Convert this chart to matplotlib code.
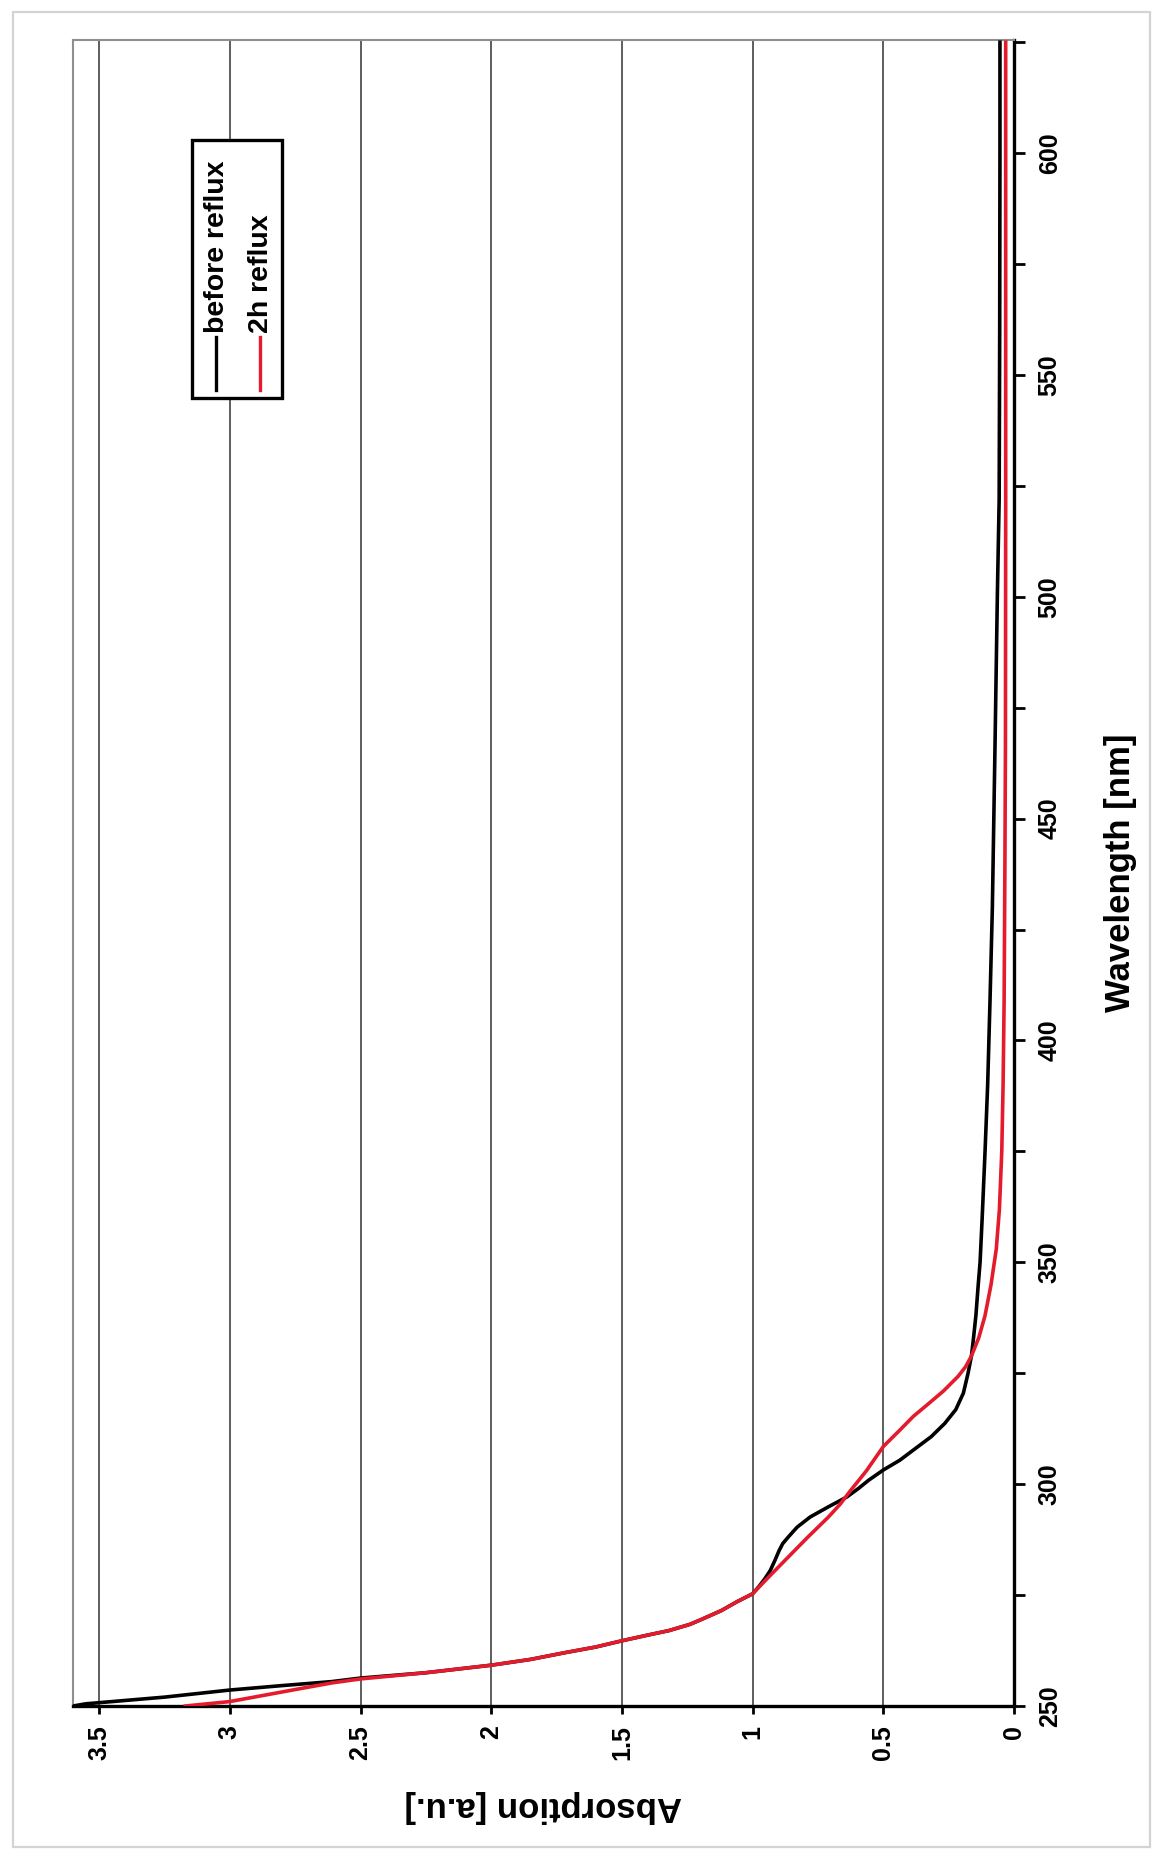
import matplotlib
matplotlib.use("Agg")
import matplotlib.pyplot as plt
from matplotlib.patches import Rectangle
from matplotlib.lines import Line2D

# UV-vis absorption spectra, drawn turned on its side:
# absorption runs along the bottom (high on the left), wavelength up the right side.

wl_before = [250, 250.5, 252, 253.6, 254.6, 255.5, 256.3, 257.5, 259.2, 260.5,
             262, 263.3, 264.7, 266, 267, 268.4, 269.4, 271.5, 273.5, 275.3,
             277, 278.8, 280.5, 282.8, 285, 286.6, 288, 290.3, 292.6, 294.9,
             297.1, 299, 300.9, 303.2, 305.4, 307.7, 310.7, 313.7, 316.8, 320.5,
             325, 328.9, 333, 338, 345, 350, 360, 375, 390, 409, 430, 466, 500,
             522, 560, 600, 625]
abs_before = [3.60, 3.55, 3.25, 3.00, 2.80, 2.61, 2.50, 2.25, 2.00, 1.85,
              1.72, 1.60, 1.50, 1.40, 1.32, 1.24, 1.20, 1.12, 1.06, 1.00,
              0.975, 0.952, 0.933, 0.915, 0.899, 0.885, 0.865, 0.83, 0.78, 0.71,
              0.64, 0.596, 0.556, 0.50, 0.437, 0.385, 0.317, 0.265, 0.223, 0.194,
              0.176, 0.163, 0.155, 0.146, 0.137, 0.130, 0.122, 0.111, 0.101, 0.092,
              0.083, 0.073, 0.064, 0.057, 0.055, 0.054, 0.054]

wl_reflux = [250, 251, 252.3, 253.6, 255.2, 256.1, 257.5, 259.2, 260.5, 262,
             263.3, 264.7, 266, 267, 268.4, 269.4, 271.5, 273.5, 275.3, 279,
             283.5, 288, 292.6, 295.5, 298.6, 303, 308.5, 312, 315.3, 318, 321,
             324.3, 326.5, 328.9, 333, 338, 345, 353, 362, 375, 390, 409, 440,
             466, 520, 600, 625]
abs_reflux = [3.17, 3.00, 2.88, 2.76, 2.61, 2.50, 2.25, 2.00, 1.85, 1.72,
              1.60, 1.50, 1.40, 1.32, 1.24, 1.20, 1.12, 1.06, 1.00, 0.94,
              0.865, 0.79, 0.71, 0.665, 0.625, 0.565, 0.50, 0.44, 0.385, 0.33, 0.27,
              0.214, 0.185, 0.163, 0.135, 0.111, 0.088, 0.068, 0.056, 0.047, 0.042,
              0.038, 0.035, 0.033, 0.032, 0.032, 0.032]

abs_ticks = [0, 0.5, 1, 1.5, 2, 2.5, 3, 3.5]
abs_labels = ["0", "0.5", "1", "1.5", "2", "2.5", "3", "3.5"]
wl_major = [250, 300, 350, 400, 450, 500, 550, 600]
wl_minor = [275, 325, 375, 425, 475, 525, 575, 625]

names = ["before reflux", "2h reflux"]
RED = "#e31b2d"

plt.rcParams['font.family'] = ['Liberation Sans', 'DejaVu Sans']
plt.rcParams['font.weight'] = 'bold'

fig = plt.figure(figsize=(11.53, 18.59), dpi=100)
ax = fig.add_axes([0.0633, 0.0823, 0.8162, 0.8962])

# light frame round the whole figure
fig.patches.append(Rectangle((13 / 1153, 12 / 1859), 1137 / 1153, 1835 / 1859,
                             transform=fig.transFigure, fill=False,
                             edgecolor="#d4d4d4", lw=1.6))

ax.plot(abs_before, wl_before, color="black", lw=2.6, zorder=3,
        solid_joinstyle="round")
ax.plot(abs_reflux, wl_reflux, color=RED, lw=2.6, zorder=4,
        solid_joinstyle="round")

ax.set_xlim(3.6, 0)
ax.set_ylim(250, 625.5)

ax.set_xticks(abs_ticks)
ax.set_xticklabels(abs_labels, rotation=90)
ax.yaxis.tick_right()
ax.set_yticks(wl_major)
ax.set_yticks(wl_minor, minor=True)
ax.set_yticklabels([str(w) for w in wl_major], rotation=90, va="center")

ax.tick_params(axis="x", direction="out", length=6, width=2, pad=8,
               labelsize=18, color="black")
ax.tick_params(axis="y", which="both", direction="out", length=8, width=2,
               pad=9, labelsize=18, color="black")

for lab in ax.get_yticklabels():
    lab.set_va("center")

ax.xaxis.grid(True, color="#333333", lw=1.1)
ax.set_axisbelow(True)

ax.spines["bottom"].set_linewidth(2.4)
ax.spines["right"].set_linewidth(2.4)
ax.spines["top"].set_color("#8f8f8f")
ax.spines["left"].set_color("#8f8f8f")
ax.spines["top"].set_linewidth(1.5)
ax.spines["left"].set_linewidth(1.5)

ax.set_xlabel("Absorption [a.u.]", fontsize=25, fontweight="bold", rotation=180)
ax.xaxis.set_label_coords(0.5, -0.0606)
ax.xaxis.label.set_va("center")
ax.yaxis.set_label_position("right")
ax.set_ylabel("Wavelength [nm]", fontsize=25, fontweight="bold", rotation=90)
ax.yaxis.set_label_coords(1.113, 0.5)
ax.yaxis.label.set_va("center")
ax.yaxis.label.set_rotation_mode("default")

# legend box, laid out sideways to follow the turned axes
box = Rectangle((0.1265, 0.785), 0.0955, 0.155, transform=ax.transAxes,
                facecolor="white", edgecolor="black", lw=2.4, zorder=5)
ax.add_patch(box)
for xc, color, name in [(0.1520, "black", names[0]), (0.1985, RED, names[1])]:
    ax.add_line(Line2D([xc, xc], [0.790, 0.822], transform=ax.transAxes,
                       color=color, lw=2.4, zorder=6))
    ax.text(xc + 0.001, 0.824, name, transform=ax.transAxes, rotation=90,
            ha="center", va="bottom", fontsize=20.5, fontweight="bold", zorder=6)

fig.savefig("out.png", dpi=100)
